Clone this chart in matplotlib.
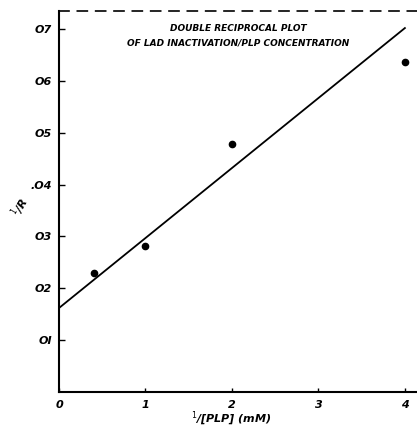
import matplotlib

matplotlib.use("Agg")
import matplotlib.pyplot as plt
import numpy as np

# data
inv_plp = [0.4, 1.0, 2.0, 4.0]
inv_r = [0.0230, 0.0281, 0.0479, 0.0636]

# fitted straight line (intercept, slope)
fit_x = [0.0, 4.0]
fit_intercept = 0.0162
fit_slope = 0.0135

x_ticks = [0, 1, 2, 3, 4]
x_tick_labels = ["0", "1", "2", "3", "4"]
y_ticks = [0.01, 0.02, 0.03, 0.04, 0.05, 0.06, 0.07]
y_tick_labels = ["OI", "O2", "O3", ".O4", "O5", "O6", "O7"]

font = dict(family="DejaVu Sans", style="italic", weight="bold")

fig = plt.figure(figsize=(4.17, 4.36), dpi=100)
ax = fig.add_axes([0.1415, 0.1009, 0.8585, 0.874])

ax.plot(inv_plp, inv_r, "o", color="k", markersize=4.5)
line_y = [fit_intercept + fit_slope * x for x in fit_x]
ax.plot(fit_x, line_y, color="k", linewidth=1.3)

ax.set_xlim(0, 4.14)
ax.set_ylim(0, 0.0735)

ax.set_xticks(x_ticks)
ax.set_xticklabels(x_tick_labels, fontsize=8, **font)
ax.set_yticks(y_ticks)
ax.set_yticklabels(y_tick_labels, fontsize=8, **font)
ax.tick_params(axis="x", direction="in", length=3, width=1, pad=6)
ax.tick_params(axis="y", direction="in", length=4, width=1, pad=5)

ax.spines["right"].set_visible(False)
ax.spines["left"].set_linewidth(1.5)
ax.spines["bottom"].set_linewidth(1.5)
ax.spines["top"].set_linewidth(1.2)
ax.spines["top"].set_linestyle((0, (6, 5)))

ax.text(0.5, 0.955, "DOUBLE RECIPROCAL PLOT", transform=ax.transAxes,
        ha="center", va="center", fontsize=6.5, **font)
ax.text(0.5, 0.915, "OF LAD INACTIVATION/PLP CONCENTRATION", transform=ax.transAxes,
        ha="center", va="center", fontsize=6.5, **font)

fig.text(0.555, 0.018, r"$^1$/[PLP] (mM)", ha="center",
         va="bottom", fontsize=8, **font)
fig.text(0.048, 0.525, r"$^1$/R", rotation=60, ha="center", va="center",
         fontsize=8, **font)

fig.savefig("out.png", dpi=100)
